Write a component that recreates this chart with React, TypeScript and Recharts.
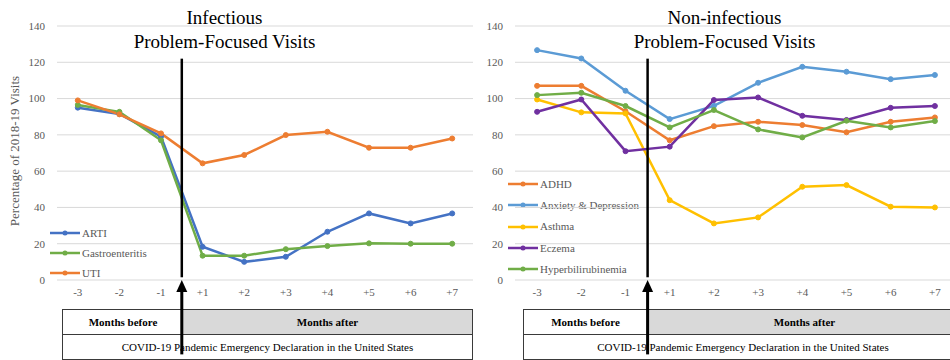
import React from 'react';
import { LineChart, Line, XAxis, YAxis, CartesianGrid, ReferenceLine } from 'recharts';

const months = ['-3', '-2', '-1', '+1', '+2', '+3', '+4', '+5', '+6', '+7'];
const yTicks = [0, 20, 40, 60, 80, 100, 120, 140];

const artiValues = [95, 91.5, 79, 18.3, 10, 12.8, 26.6, 36.7, 31.2, 36.7];
const gastroValues = [96.5, 92.7, 77, 13.4, 13.4, 17, 18.7, 20.2, 20, 20];
const utiValues = [99, 91.3, 80.8, 64.3, 68.9, 79.9, 81.7, 72.9, 72.9, 78];

const adhdValues = [107, 107, 93, 77, 84.8, 87.2, 85.4, 81.4, 87.2, 89.6];
const anxietyValues = [126.7, 122.1, 104.3, 88.7, 96, 108.7, 117.5, 114.8, 110.7, 113];
const asthmaValues = [99.5, 92.4, 91.8, 44, 31.2, 34.5, 51.4, 52.3, 40.4, 40];
const eczemaValues = [92.7, 99.5, 71, 73.5, 99.2, 100.6, 90.5, 88.2, 94.9, 95.9];
const hyperbiliValues = [101.9, 103.2, 95.9, 84.1, 93.7, 83, 78.6, 87.8, 84.1, 87.6];

const declarationAfter = '-1';
const lineTop = 122;
const lineBottom = 1.5;
const arrowTip = 0;
const arrowTail = -41;

const infectiousSeries = [
  { key: 'ARTI', color: '#4472C4', values: artiValues },
  { key: 'Gastroenteritis', color: '#70AD47', values: gastroValues },
  { key: 'UTI', color: '#ED7D31', values: utiValues },
];
const nonInfectiousSeries = [
  { key: 'ADHD', color: '#ED7D31', values: adhdValues },
  { key: 'Anxiety & Depression', color: '#5B9BD5', values: anxietyValues },
  { key: 'Asthma', color: '#FFC000', values: asthmaValues },
  { key: 'Eczema', color: '#7030A0', values: eczemaValues },
  { key: 'Hyperbilirubinemia', color: '#70AD47', values: hyperbiliValues },
];

const SERIF = "'Liberation Serif', 'Times New Roman', serif";
const GRAY = '#595959';

function buildData(series: { key: string; values: number[] }[]) {
  return months.map((m, i) => {
    const row: Record<string, number | string> = { idx: i, label: m };
    series.forEach((s) => {
      row[s.key] = s.values[i];
    });
    return row;
  });
}

const declX = months.indexOf(declarationAfter) + 0.5;

const ArrowShape = (props: any) => {
  const x = props.x1;
  const top = Math.min(props.y1, props.y2);
  const bottom = Math.max(props.y1, props.y2);
  return (
    <g>
      <line x1={x} x2={x} y1={top + 10} y2={bottom} stroke="#000" strokeWidth={3} />
      <polygon points={`${x},${top} ${x - 5.5},${top + 12} ${x + 5.5},${top + 12}`} fill="#000" />
    </g>
  );
};

function Panel(props: {
  series: { key: string; color: string; values: number[] }[];
  left: number;
  width: number;
  yAxisWidth: number;
  marginRight: number;
  showYLabel: boolean;
}) {
  const data = buildData(props.series);
  return (
    <div style={{ position: 'absolute', left: props.left, top: 0 }}>
      <LineChart
        width={props.width}
        height={360}
        data={data}
        margin={{ top: 26, right: props.marginRight, bottom: 50, left: 0 }}
      >
        <CartesianGrid vertical={false} stroke="#d9d9d9" strokeWidth={1} />
        <XAxis
          dataKey="idx"
          type="number"
          domain={[-0.5, months.length - 0.5]}
          ticks={months.map((_, i) => i)}
          tickFormatter={(v: number) => months[v]}
          axisLine={false}
          tickLine={false}
          height={30}
          tickSize={6}
          tickMargin={2}
          tick={{ fill: GRAY, fontSize: 11, fontFamily: SERIF }}
        />
        <YAxis
          domain={[0, 140]}
          ticks={yTicks}
          width={props.yAxisWidth}
          axisLine={false}
          tickLine={false}
          tickSize={0}
          tickMargin={12}
          tick={{ fill: GRAY, fontSize: 11, fontFamily: SERIF }}
          label={
            props.showYLabel
              ? {
                  content: (lp: any) => {
                    const vb = lp.viewBox || {};
                    const cx = (vb.x || 0) + 14;
                    const cy = (vb.y || 0) + (vb.height || 0) / 2 - 2;
                    return (
                      <text
                        x={cx}
                        y={cy}
                        transform={`rotate(-90 ${cx} ${cy})`}
                        textAnchor="middle"
                        dominantBaseline="central"
                        fill={GRAY}
                        fontSize={13}
                        fontFamily={SERIF}
                      >
                        Percentage of 2018-19 Visits
                      </text>
                    );
                  },
                }
              : undefined
          }
        />
        {props.series.map((s) => (
          <Line
            key={s.key}
            dataKey={s.key}
            stroke={s.color}
            strokeWidth={2.5}
            dot={{ r: 2.5, fill: s.color, stroke: s.color, strokeWidth: 1 }}
            activeDot={false}
            isAnimationActive={false}
          />
        ))}
        <ReferenceLine
          segment={[
            { x: declX, y: lineTop },
            { x: declX, y: lineBottom },
          ]}
          stroke="#000"
          strokeWidth={2.5}
          ifOverflow="visible"
        />
        <ReferenceLine
          segment={[
            { x: declX, y: arrowTail },
            { x: declX, y: arrowTip },
          ]}
          stroke="#000"
          ifOverflow="visible"
          shape={ArrowShape}
        />
      </LineChart>
    </div>
  );
}

function LegendBox(props: {
  series: { key: string; color: string }[];
  left: number;
  top: number;
  rowH: number;
  fontSize: number;
}) {
  return (
    <div style={{ position: 'absolute', left: props.left, top: props.top, fontFamily: SERIF }}>
      {props.series.map((s) => (
        <div key={s.key} style={{ display: 'flex', alignItems: 'center', height: props.rowH }}>
          <svg width={30} height={8} style={{ display: 'block' }}>
            <line x1={0} y1={4} x2={30} y2={4} stroke={s.color} strokeWidth={2.5} />
            <circle cx={15} cy={4} r={2.5} fill={s.color} />
          </svg>
          <span style={{ marginLeft: 2, fontSize: props.fontSize, color: GRAY, whiteSpace: 'nowrap', lineHeight: 1 }}>
            {s.key}
          </span>
        </div>
      ))}
    </div>
  );
}

function Title(props: { lines: string[]; center: number }) {
  return (
    <div
      style={{
        position: 'absolute',
        left: props.center - 150,
        top: 6,
        width: 300,
        textAlign: 'center',
        fontFamily: SERIF,
        fontSize: 19,
        lineHeight: '24px',
        color: '#000',
      }}
    >
      {props.lines.map((l) => (
        <div key={l}>{l}</div>
      ))}
    </div>
  );
}

function TableBox(props: { left: number; right: number; split: number }) {
  const w = props.right - props.left;
  const splitW = props.split - props.left;
  const border = '1px solid #3a3a3a';
  return (
    <div
      style={{
        position: 'absolute',
        left: props.left,
        top: 309,
        width: w,
        height: 51,
        boxSizing: 'border-box',
        border,
        fontFamily: SERIF,
        fontSize: 11,
        color: '#000',
      }}
    >
      <div style={{ display: 'flex', height: 24, borderBottom: border }}>
        <div
          style={{
            width: splitW - 1,
            background: '#fff',
            fontWeight: 'bold',
            display: 'flex',
            alignItems: 'center',
            justifyContent: 'center',
          }}
        >
          Months before
        </div>
        <div
          style={{
            flex: 1,
            background: '#d9d9d9',
            fontWeight: 'bold',
            display: 'flex',
            alignItems: 'center',
            justifyContent: 'center',
          }}
        >
          Months after
        </div>
      </div>
      <div style={{ height: 24, display: 'flex', alignItems: 'center', justifyContent: 'center', background: '#fff' }}>
        COVID-19 Pandemic Emergency Declaration in the United States
      </div>
    </div>
  );
}

export default function App() {
  return (
    <div
      style={{
        position: 'absolute',
        left: 0,
        top: 0,
        width: 950,
        height: 360,
        overflow: 'hidden',
        background: '#fff',
      }}
    >
      <TableBox left={62} right={473} split={183} />
      <TableBox left={523} right={963} split={647} />
      <Title lines={['Infectious', 'Problem-Focused Visits']} center={224.5} />
      <Title lines={['Non-infectious', 'Problem-Focused Visits']} center={724.5} />
      <LegendBox series={infectiousSeries} left={50} top={223} rowH={20} fontSize={11} />
      <LegendBox series={nonInfectiousSeries} left={508} top={173.5} rowH={21.3} fontSize={11} />
      <Panel series={infectiousSeries} left={0} width={480} yAxisWidth={57} marginRight={7} showYLabel={true} />
      <Panel series={nonInfectiousSeries} left={475} width={490} yAxisWidth={40} marginRight={8} showYLabel={false} />
    </div>
  );
}
